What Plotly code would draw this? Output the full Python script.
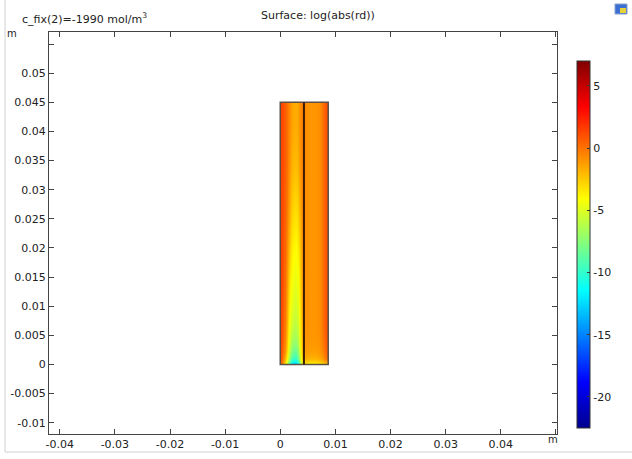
import plotly.graph_objects as go

# ---- data ----
x_edges = [0, 0.0006, 0.0012, 0.0018, 0.0025, 0.0031, 0.0037, 0.0043,
           0.0049, 0.0055, 0.0061, 0.0068, 0.0074, 0.0080, 0.0087]
y_edges = [0, 0.0006, 0.0015, 0.003, 0.005, 0.008, 0.012, 0.017, 0.023, 0.030, 0.037, 0.045]

right_upper = [-0.8, -1.0, -1.0, -1.0, -0.8, 0.0, 1.0]
z_rows = [
    [0.2, -3.5, -8.5, -12.0, -12.5, -9.5, -3.5] + [-3.2, -3.5, -3.5, -3.5, -3.2, -2.8, -2.0],
    [0.6, -2.2, -6.5, -9.5, -10.0, -7.5, -2.5] + [-1.6, -1.9, -1.9, -1.9, -1.6, -1.0, 0.0],
    [0.8, -1.2, -5.5, -8.0, -8.5, -6.5, -2.0] + [-1.1, -1.3, -1.3, -1.3, -1.1, -0.5, 0.5],
    [1.0, -0.8, -4.6, -6.8, -7.2, -5.6, -1.8] + [-0.9, -1.1, -1.1, -1.1, -0.9, -0.2, 0.8],
    [1.1, -0.5, -4.0, -5.8, -6.2, -5.0, -1.6] + right_upper,
    [1.2, -0.2, -3.4, -5.0, -5.4, -4.5, -1.3] + right_upper,
    [1.3, 0.0, -2.8, -4.4, -4.8, -4.0, -1.1] + right_upper,
    [1.3, 0.2, -2.0, -3.7, -4.1, -3.3, -0.8] + right_upper,
    [1.3, 0.4, -1.3, -2.8, -3.2, -2.4, -0.5] + right_upper,
    [1.3, 0.5, -0.8, -2.0, -2.3, -1.6, -0.3] + right_upper,
    [1.3, 0.5, -0.6, -1.5, -1.8, -1.2, -0.3] + right_upper,
]
z_min, z_max = -22.5, 7.0
cbar_ticks = [-20, -15, -10, -5, 0, 5]

x_ticks = [-0.04, -0.03, -0.02, -0.01, 0, 0.01, 0.02, 0.03, 0.04, 0.05]
x_labels = ["-0.04", "-0.03", "-0.02", "-0.01", "0", "0.01", "0.02", "0.03", "0.04", " "]
y_ticks = [-0.01, -0.005, 0, 0.005, 0.01, 0.015, 0.02, 0.025, 0.03, 0.035, 0.04, 0.045, 0.05, 0.055]
y_labels = ["-0.01", "-0.005", "0", "0.005", "0.01", "0.015", "0.02", "0.025", "0.03",
            "0.035", "0.04", "0.045", "0.05", " "]

rect_left = (0, 0.0043)
rect_right = (0.0043, 0.0087)
rect_top = 0.045

# ---- figure ----
jet = [[0.0, "rgb(0,0,143)"], [0.125, "rgb(0,0,255)"], [0.375, "rgb(0,255,255)"],
       [0.625, "rgb(255,255,0)"], [0.875, "rgb(255,0,0)"], [1.0, "rgb(128,0,0)"]]

W, H = 632, 459
L, R, T, B = 49, 75, 32, 25
pw, ph = W - L - R, H - T - B


def px(x):
    return (x - L) / pw


def py(y):
    return (H - B - y) / ph


font = "DejaVu Sans, Verdana, sans-serif"

fig = go.Figure(go.Heatmap(
    x=x_edges, y=y_edges, z=z_rows, zsmooth="best",
    colorscale=jet, zmin=z_min, zmax=z_max,
    colorbar=dict(
        thickness=13, thicknessmode="pixels",
        len=367 / ph, lenmode="fraction",
        x=px(577), xanchor="left", xpad=0,
        y=py(244.5), yanchor="middle", ypad=0,
        outlinewidth=1, outlinecolor="#333",
        tickvals=cbar_ticks, ticktext=[str(v) for v in cbar_ticks],
        ticks="inside", ticklen=3, tickcolor="#333",
        tickfont=dict(family=font, size=11, color="#222"),
    ),
    hoverinfo="skip",
))

axis_common = dict(
    showline=True, linecolor="#444", linewidth=1, mirror="ticks",
    ticks="inside", ticklen=5, tickcolor="#444",
    showgrid=False, zeroline=False,
    tickfont=dict(family=font, size=11, color="#222"),
)
fig.update_xaxes(range=[-0.04195, 0.0502], tickvals=x_ticks, ticktext=x_labels,
                 ticklabelstandoff=0, **axis_common)
fig.update_yaxes(range=[-0.01194, 0.05707], tickvals=y_ticks, ticktext=y_labels, **axis_common)

shapes = [
    dict(type="rect", xref="x", yref="y", x0=rect_left[0], x1=rect_right[1], y0=0, y1=rect_top,
         line=dict(color="rgb(90,80,70)", width=1.5), layer="above"),
    dict(type="line", xref="x", yref="y", x0=rect_left[1], x1=rect_left[1], y0=0, y1=rect_top,
         line=dict(color="rgb(60,30,5)", width=2), layer="above"),
    # panel frame
    dict(type="line", xref="paper", yref="paper", x0=px(5), x1=px(5), y0=py(0), y1=py(452),
         line=dict(color="#d0d0d0", width=1)),
    dict(type="line", xref="paper", yref="paper", x0=px(5), x1=px(632), y0=py(452), y1=py(452),
         line=dict(color="#d0d0d0", width=1)),
    # small icon top-right
    dict(type="rect", xref="paper", yref="paper", x0=px(615), x1=px(627), y0=py(14), y1=py(4),
         fillcolor="#3b6fd4", line=dict(color="#8aa0c8", width=1)),
    dict(type="rect", xref="paper", yref="paper", x0=px(620), x1=px(626), y0=py(13), y1=py(8),
         fillcolor="#e8d23a", line=dict(width=0)),
]

annotations = [
    dict(text="c_fix(2)=-1990 mol/m<sup>3</sup>", xref="paper", yref="paper",
         x=px(20), y=py(18), xanchor="left", yanchor="middle", showarrow=False,
         font=dict(family=font, size=11, color="#222")),
    dict(text="Surface: log(abs(rd))", xref="paper", yref="paper",
         x=px(318), y=py(16), xanchor="center", yanchor="middle", showarrow=False,
         font=dict(family=font, size=11, color="#222")),
    dict(text="m", xref="paper", yref="paper",
         x=px(12), y=py(33), xanchor="center", yanchor="middle", showarrow=False,
         font=dict(family=font, size=10, color="#222")),
    dict(text="m", xref="paper", yref="paper",
         x=px(553), y=py(439), xanchor="center", yanchor="middle", showarrow=False,
         font=dict(family=font, size=10, color="#222")),
]

fig.update_layout(
    width=W, height=H,
    margin=dict(l=L, r=R, t=T, b=B, autoexpand=False),
    paper_bgcolor="white", plot_bgcolor="white",
    shapes=shapes, annotations=annotations,
    showlegend=False,
)

fig.write_html("out.html", config={"displayModeBar": False},
               post_script="document.body.style.margin='0';document.body.style.overflow='hidden';")
